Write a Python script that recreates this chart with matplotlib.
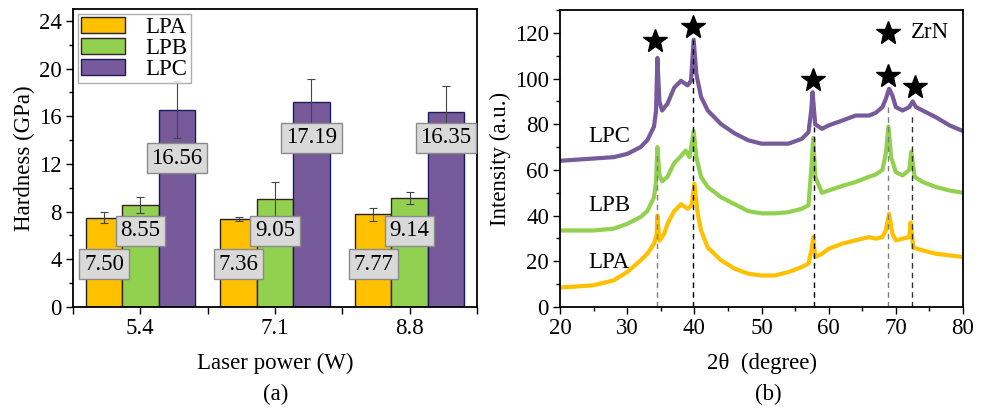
import numpy as np
import matplotlib
matplotlib.use('Agg')
import matplotlib.pyplot as plt
from matplotlib.ticker import MultipleLocator

plt.rcParams['font.family'] = ['Liberation Serif', 'DejaVu Serif']

# ---------------- data: hardness (a) ----------------
powers = ['5.4', '7.1', '8.8']
samples = ['LPA', 'LPB', 'LPC']
hard_lpa = [7.50, 7.36, 7.77]
hard_lpb = [8.55, 9.05, 9.14]
hard_lpc = [16.56, 17.19, 16.35]
err_lpa = [0.48, 0.17, 0.55]
err_lpb = [0.65, 1.40, 0.50]
err_lpc = [2.40, 1.95, 2.20]

# ---------------- data: XRD (b) ----------------
tt_lpa = [20, 25, 28, 30, 32, 33, 34, 34.4, 34.5, 34.8, 35.5, 36, 37, 38, 39, 39.6, 40, 40.5, 41, 42,
          44, 46, 48, 50, 52, 54, 56, 57, 57.5, 57.7, 58, 59, 60, 62, 64, 66, 67, 68, 68.5, 69,
          69.5, 70, 71, 72, 72.2, 72.6, 74, 76, 78, 80]
int_lpa = [8.5, 9.5, 11.7, 15.3, 20.4, 23.3, 27.7, 32, 40, 29, 32, 36.4, 42, 45, 43, 44.5, 54, 41, 33.5, 26,
           20.4, 16.8, 14.6, 13.8, 13.8, 15.3, 17.5, 19, 26, 30.6, 21.9, 23.3, 25.5, 27.7, 29.2, 30.6, 29.9, 30.6, 33.5, 40.8,
           32, 29.2, 29.9, 30.6, 37, 26, 24.8, 23.3, 22.6, 21.9]

tt_lpb = [20, 25, 28, 30, 32, 33, 34, 34.3, 34.5, 34.8, 35.2, 36, 37, 38, 38.7, 39.3, 39.9, 40.3, 41, 42,
          44, 46, 48, 50, 52, 54, 56, 57, 57.5, 57.7, 58, 59, 60, 62, 64, 66, 67, 68, 68.5, 68.9,
          69.3, 70, 71, 72, 72.3, 72.8, 74, 76, 78, 80]
int_lpb = [33.5, 33.5, 34.3, 36.4, 39.4, 42, 48, 55, 70, 58, 55, 57, 63, 66, 68.5, 65.6, 77, 65.6, 57, 52.5,
           48, 45, 42, 41, 41, 41.5, 43, 44.5, 64, 74, 57, 50, 51, 53, 54.7, 57, 58, 60, 67, 79,
           65.6, 59, 57.6, 60, 68, 57, 54.7, 52.5, 51, 50]

tt_lpc = [20, 25, 28, 30, 32, 33, 33.5, 34, 34.3, 34.5, 34.8, 35.2, 36, 37, 38, 39, 39.5, 39.9, 40.3, 41,
          42, 44, 46, 48, 50, 52, 54, 56, 57, 57.4, 57.6, 58, 59, 60, 62, 64, 66, 67, 68, 68.5,
          69, 69.5, 70, 71, 72, 72.5, 73, 74, 76, 78, 80]
int_lpc = [64, 65, 65.6, 67, 70, 73, 76, 79, 86, 109, 90, 86, 89, 96, 99, 97, 99, 117, 102, 92,
           86, 80, 76, 73, 71.5, 71.5, 71.5, 73.6, 76.5, 86, 94, 80, 78, 79.5, 81.6, 83.8, 83.8, 85, 87.5, 91,
           95.5, 92.5, 87.5, 86, 87.5, 90, 87.5, 86, 83, 79.5, 77]

peak_pos = [34.5, 39.85, 57.8, 68.9, 72.45]
peak_top = [68, 117, 79, 89, 84]
star_x = [34.15, 39.85, 57.65, 68.85, 72.9]
star_y = [116.5, 122.5, 99.5, 101, 96.5]

c_a, c_b, c_c = '#FFC000', '#92D050', '#765A9A'

fig = plt.figure(figsize=(9.88, 4.08), dpi=100)
ax1 = fig.add_axes([0.0739, 0.2475, 0.4089, 0.7304])
ax2 = fig.add_axes([0.5668, 0.2475, 0.4079, 0.7280])

fs = 16.5
# ---------------- panel (a) ----------------
x = np.arange(len(powers))
w = 0.27
ekw = dict(ecolor='#454545', elinewidth=0.8, capsize=3, capthick=0.8)
ax1.bar(x - w, hard_lpa, w, yerr=err_lpa, color=c_a, edgecolor='#222222', lw=1, label='LPA', error_kw=ekw)
ax1.bar(x, hard_lpb, w, yerr=err_lpb, color=c_b, edgecolor='#3a2020', lw=1, label='LPB', error_kw=ekw)
ax1.bar(x + w, hard_lpc, w, yerr=err_lpc, color=c_c, edgecolor='#1c1c5c', lw=1, label='LPC', error_kw=ekw)

label_y = [[3.6, 3.6, 3.6], [6.4, 6.4, 6.4], [12.5, 14.2, 14.2]]
box = dict(boxstyle='square,pad=0.2', fc='#d9d9d9', ec='#8a8a8a', lw=1)
for k, vals in enumerate([hard_lpa, hard_lpb, hard_lpc]):
    for i, v in enumerate(vals):
        ax1.text(x[i] + (k - 1) * w, label_y[k][i], '%.2f' % v, ha='center', va='center',
                 fontsize=fs, bbox=box)

ax1.set_xlim(-0.5, 2.5)
ax1.set_ylim(0, 25)
ax1.set_xticks(x)
ax1.set_xticklabels(powers)
ax1.set_xticks([-0.5, 0.5, 1.5, 2.5], minor=True)
ax1.yaxis.set_major_locator(MultipleLocator(4))
ax1.yaxis.set_minor_locator(MultipleLocator(2))
ax1.set_ylabel('Hardness (GPa)', fontsize=fs, labelpad=3)
ax1.set_xlabel('Laser power (W)', fontsize=fs, labelpad=10)
leg = ax1.legend(loc='upper left', fontsize=fs, frameon=True, fancybox=False, borderaxespad=0.2,
                 handlelength=1.9, handleheight=0.65, labelspacing=0.0, borderpad=0.15,
                 handletextpad=0.9)
leg.get_frame().set_edgecolor('#9a9a9a')
leg.get_frame().set_linewidth(1)

# ---------------- panel (b) ----------------
ax2.plot(tt_lpa, int_lpa, color=c_a, lw=3)
ax2.plot(tt_lpb, int_lpb, color=c_b, lw=3)
ax2.plot(tt_lpc, int_lpc, color=c_c, lw=3)
vcol = ['#7f7f7f', 'black', 'black', '#7f7f7f', '#333333']
for p, t, c in zip(peak_pos, peak_top, vcol):
    ax2.vlines(p, 0, t, colors=c, linestyles=(0, (4, 3)), lw=1)
ax2.plot(star_x, star_y, ls='none', marker='*', ms=18, color='black')
ax2.plot([68.85], [120], ls='none', marker='*', ms=18, color='black')
ax2.text(72.2, 120, 'ZrN', fontsize=fs, va='center', ha='left')
ax2.text(24.2, 74.5, 'LPC', fontsize=fs, va='center')
ax2.text(24.2, 44.5, 'LPB', fontsize=fs, va='center')
ax2.text(24.2, 19.7, 'LPA', fontsize=fs, va='center')

ax2.set_xlim(20, 80)
ax2.set_ylim(0, 130)
ax2.xaxis.set_major_locator(MultipleLocator(10))
ax2.xaxis.set_minor_locator(MultipleLocator(5))
ax2.yaxis.set_major_locator(MultipleLocator(20))
ax2.yaxis.set_minor_locator(MultipleLocator(10))
ax2.set_xlabel('2θ  (degree)', fontsize=fs, labelpad=10)
ax2.set_ylabel('Intensity (a.u.)', fontsize=fs, labelpad=3)

for ax in (ax1, ax2):
    ax.tick_params(which='major', direction='out', length=5, width=1, labelsize=fs, pad=3)
    ax.tick_params(which='minor', direction='out', length=3, width=1)
    for s in ax.spines.values():
        s.set_linewidth(1.3)
ax1.tick_params(axis='x', which='minor', length=5)

fig.text(0.2795, 0.032, '(a)', fontsize=fs, ha='center', va='center')
fig.text(0.778, 0.032, '(b)', fontsize=fs, ha='center', va='center')

fig.savefig('out.png', dpi=100)
